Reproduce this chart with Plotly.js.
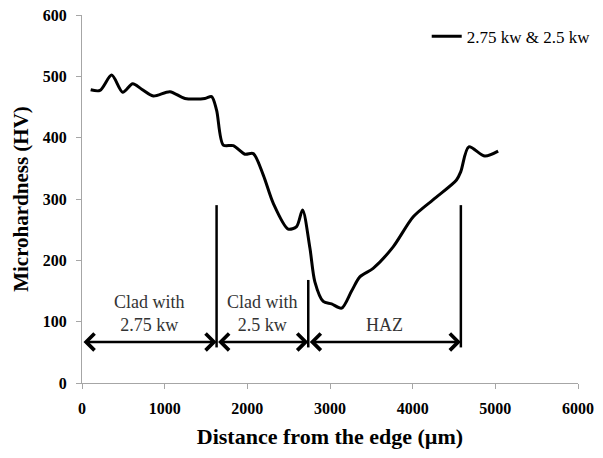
<!DOCTYPE html>
<html>
<head>
<meta charset="utf-8">
<script src="https://cdn.plot.ly/plotly-3.0.1.min.js"></script>
<style>html,body{margin:0;padding:0;background:#fff;}#chart{width:603px;height:458px;}</style>
</head>
<body>
<div id="chart"></div>
<script>
// Measured profile (distance µm, microhardness HV)
const distance = [105, 218, 359, 492, 613, 722, 862, 1064, 1245, 1487, 1568, 1628, 1709, 1830, 1971, 2072, 2193, 2314, 2494, 2596, 2668, 2757, 2817, 2918, 3019, 3140, 3261, 3361, 3522, 3764, 4007, 4249, 4530, 4583, 4679, 4873, 5034];
const hardness = [478, 477, 502, 474, 488, 479, 468, 475, 464, 464, 467, 445, 388, 387, 373, 374, 339, 293, 251, 255, 282, 220, 165, 133, 129, 122, 150, 173, 187, 222, 271, 299, 331, 345, 385, 370, 378];
const seriesName = "2.75 kw & 2.5 kw";

// Zone boundaries (µm) and annotation levels (HV)
const zoneBounds = [0, 1628, 2737, 4583];
const boundTops = [null, 290, 168, 290];
const boundBottom = 58;
const arrowLevel = 67;
const zoneLabels = ["Clad with<br>2.75 kw", "Clad with<br>2.5 kw", "HAZ"];
const zoneLabelY = [114, 114, 95];

const xTicks = [0, 1000, 2000, 3000, 4000, 5000, 6000];
const yTicks = [0, 100, 200, 300, 400, 500, 600];

const serif = "Liberation Serif, Times New Roman, serif";

const shapes = [];
for (let i = 1; i < zoneBounds.length; i++) {
  shapes.push({type: "line", xref: "x", yref: "y", x0: zoneBounds[i], x1: zoneBounds[i],
    y0: boundBottom, y1: boundTops[i], line: {color: "#000", width: 2.5}});
}
const annotations = [];
for (let i = 0; i < zoneLabels.length; i++) {
  annotations.push({xref: "x", yref: "y", axref: "x", ayref: "y",
    x: zoneBounds[i + 1], y: arrowLevel, ax: zoneBounds[i], ay: arrowLevel,
    text: "", showarrow: true, arrowhead: 4, startarrowhead: 4, arrowside: "end+start",
    arrowsize: 1.3, arrowwidth: 2.5, arrowcolor: "#000", standoff: 0, startstandoff: 0});
  annotations.push({xref: "x", yref: "y", x: (zoneBounds[i] + zoneBounds[i + 1]) / 2, y: zoneLabelY[i],
    text: zoneLabels[i], showarrow: false, font: {family: serif, size: 18, color: "#333"}});
}

const trace = {x: distance, y: hardness, type: "scatter", mode: "lines", name: seriesName,
  line: {color: "#000", width: 3, shape: "spline", smoothing: 0.8}};

const layout = {
  width: 603, height: 458,
  margin: {l: 82, r: 25, t: 15, b: 75, autoexpand: false},
  paper_bgcolor: "#fff", plot_bgcolor: "#fff",
  showlegend: true,
  legend: {x: 0.695, y: 0.99, xanchor: "left", yanchor: "top", font: {family: serif, size: 17, color: "#000"},
    bgcolor: "rgba(0,0,0,0)", itemwidth: 30},
  xaxis: {range: [0, 6000], tickvals: xTicks, ticktext: xTicks.map(String), showgrid: false, zeroline: false,
    showline: true, linecolor: "#a6a6a6", linewidth: 1, ticks: "outside", ticklen: 5, tickcolor: "#a6a6a6",
    tickfont: {family: serif, size: 16, color: "#000", weight: "bold"}, ticklabelstandoff: 6,
    title: {text: "<b>Distance from the edge (µm)</b>", font: {family: serif, size: 22, color: "#000"}, standoff: 12}},
  yaxis: {range: [0, 600], tickvals: yTicks, ticktext: yTicks.map(String), showgrid: false, zeroline: false,
    showline: true, linecolor: "#a6a6a6", linewidth: 1, ticks: "outside", ticklen: 5, tickcolor: "#a6a6a6",
    tickfont: {family: serif, size: 16, color: "#000", weight: "bold"}, ticklabelstandoff: 6,
    title: {text: "<b>Microhardness (HV)</b>", font: {family: serif, size: 21, color: "#000"}, standoff: 8}},
  shapes: shapes,
  annotations: annotations
};

Plotly.newPlot("chart", [trace], layout, {displayModeBar: false, staticPlot: true});
</script>
</body>
</html>
